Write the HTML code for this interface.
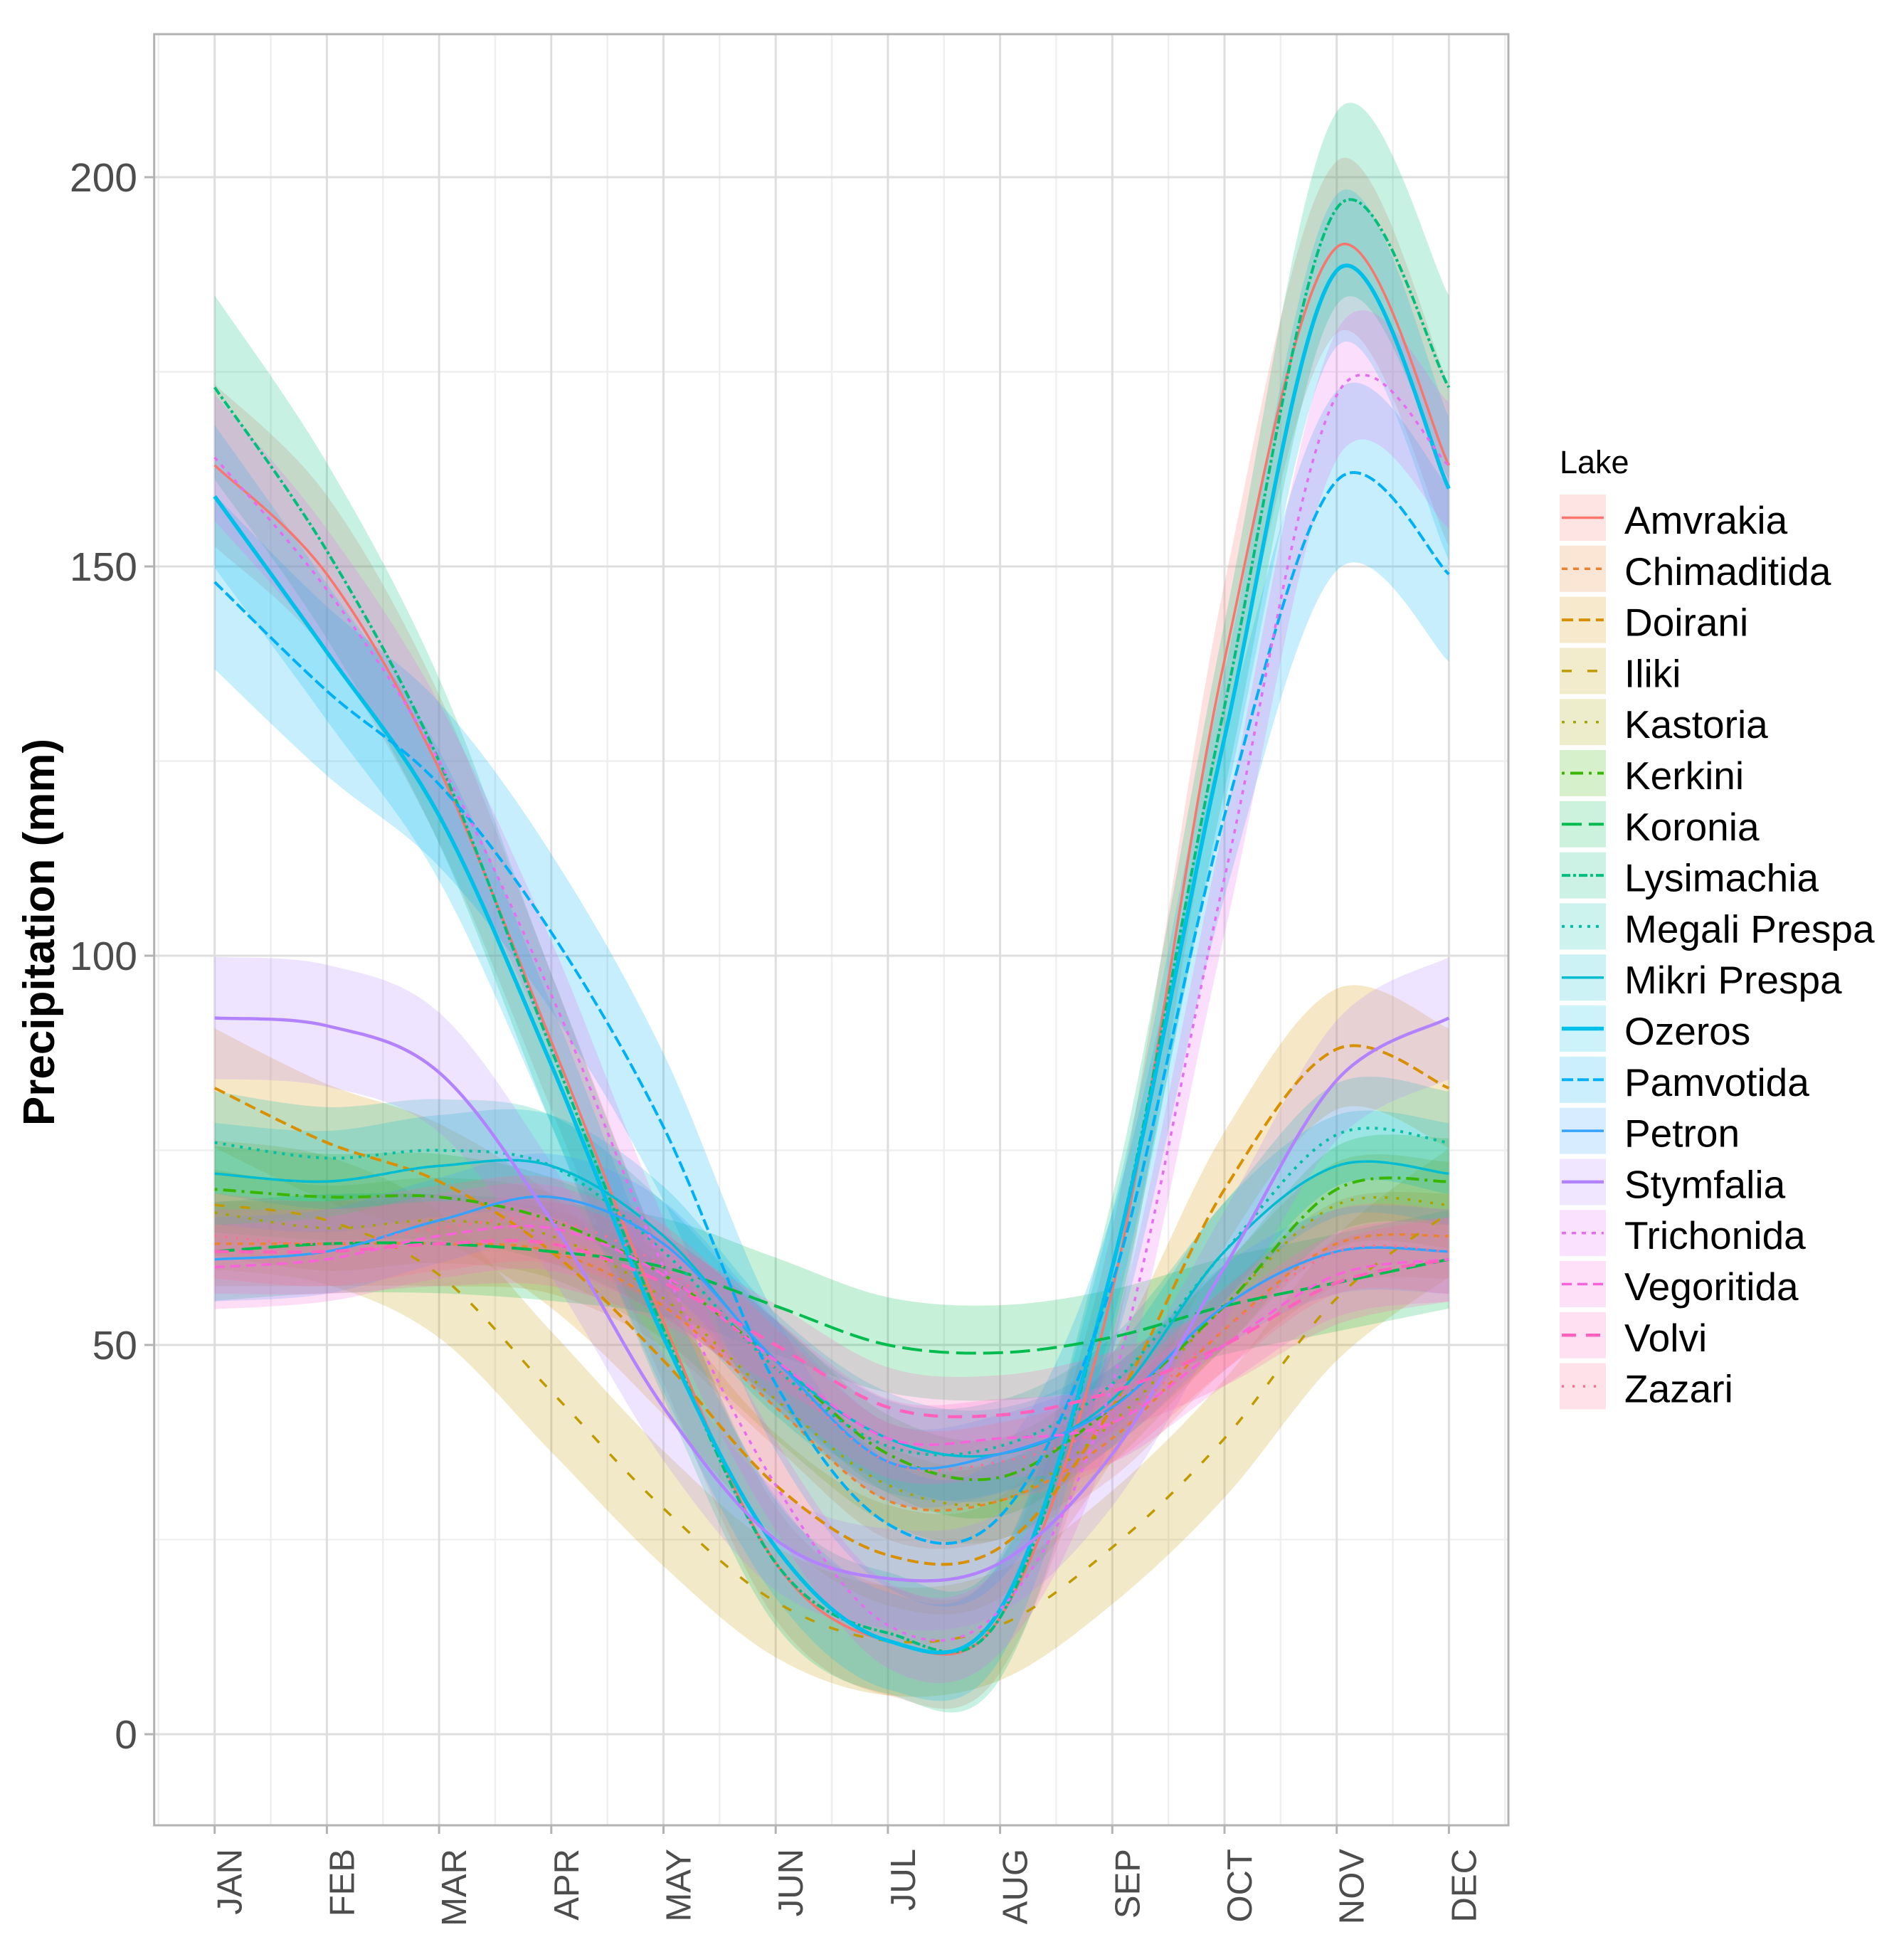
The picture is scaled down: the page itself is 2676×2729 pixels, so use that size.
<!DOCTYPE html>
<html><head><meta charset="utf-8"><style>
html,body{margin:0;padding:0;background:#fff;}
svg{display:block;font-family:"Liberation Sans",Arial,sans-serif;}
</style></head><body>
<svg id="chart" width="2676" height="2729" viewBox="0 0 2676 2729" xmlns="http://www.w3.org/2000/svg">
<g id="grid"></g>
<g id="ribbons"></g>
<g id="lines"></g>
<rect x="216.7" y="48" width="1903.3" height="2517" fill="none" stroke="#b3b3b3" stroke-width="3"/>
<g id="axes"></g>
<text transform="translate(76,1310) rotate(-90)" text-anchor="middle" font-weight="bold" font-size="62" fill="#000">Precipitation (mm)</text>
<g id="legend">
<text x="2192" y="665" font-size="45" fill="#000">Lake</text>
</g>
</svg>
<script>
const months = ["JAN","FEB","MAR","APR","MAY","JUN","JUL","AUG","SEP","OCT","NOV","DEC"];
const lakes = ["Amvrakia","Chimaditida","Doirani","Iliki","Kastoria","Kerkini","Koronia","Lysimachia","Megali Prespa","Mikri Prespa","Ozeros","Pamvotida","Petron","Stymfalia","Trichonida","Vegoritida","Volvi","Zazari"];
const yTicks = [0,50,100,150,200];
const amvrakia    = [163,149,124,89,53,22,12,15,57,138,191,163];
const chimaditida = [63,63,63,62,55,42,30,30,38,52,63,64];
const doirani     = [83,76,71,62,48,32,23,24,42,70,88,83];
const iliki       = [68,66,59,44,29,17,12,14,24,38,56,67];
const kastoria    = [67,65,66,64,56,43,32,30,40,55,68,68];
const kerkini     = [70,69,69,66,59,48,36,33,42,55,70,71];
const koronia     = [62,63,63,62,60,55,50,49,51,55,58,61];
const lysimachia  = [173,152,125,88,52,22,13,15,60,132,196,173];
const megaliPrespa= [76,74,75,73,62,47,37,37,45,62,77,76];
const mikriPrespa = [72,71,73,73,64,48,38,36,43,62,73,72];
const ozeros      = [159,139,118,86,51,24,12,16,60,128,188,160];
const pamvotida   = [148,134,122,103,78,45,27,28,58,118,161,149];
const petron      = [61,62,66,69,63,48,35,36,42,55,62,62];
const stymfalia   = [92,91,85,66,42,25,20,22,36,60,84,92];
const trichonida  = [164,147,125,95,60,32,14,16,45,110,172,163];
const vegoritida  = [60,61,64,65,59,48,38,38,40,50,59,61];
const volvi       = [62,62,63,63,58,50,42,41,44,50,58,61];
const zazari      = [64,63,65,66,60,47,35,35,40,52,62,62];
const seriesValues = [amvrakia,chimaditida,doirani,iliki,kastoria,kerkini,koronia,lysimachia,megaliPrespa,mikriPrespa,ozeros,pamvotida,petron,stymfalia,trichonida,vegoritida,volvi,zazari];
const spread = [9,6,8,9,6,6,7,10,7,7,8,10,6,8,7,6,6,6];

const colors = ["#F8766D","#EA8331","#D89000","#C09B00","#A3A500","#39B600","#00BB4E","#00BF7D","#00C1A3","#00BCD0","#00BFE8","#00B0F6","#35A2FF","#B383FF","#E76BF3","#FA62DB","#FF62BC","#FF6C91"];
const dashes = ["","8,8","16,8","14,22","4,12","4,8,18,8","28,10","12,4,4,4","4,8","","","16,6","","","6,8","14,8","20,14","3,12"];
const widths = [3.5,3.5,4,3.5,3.5,4,4,4,4,3.5,5.5,4,3.5,4.5,3.5,3.5,4.5,3.5];

const X0=301.7, DX=157.7, Y0=2437, KY=10.94, PL=216.7, PR=2120, PT=48, PB=2565;
function xs(m){return X0+m*DX;}
function ys(v){return Y0-v*KY;}
const NS="http://www.w3.org/2000/svg";
function mk(tag,attrs,parent){const e=document.createElementNS(NS,tag);for(const k in attrs)e.setAttribute(k,attrs[k]);parent.appendChild(e);return e;}
function smooth(pts){
  let d="M"+pts[0][0].toFixed(1)+","+pts[0][1].toFixed(1);
  for(let i=0;i<pts.length-1;i++){
    const p0=pts[Math.max(0,i-1)],p1=pts[i],p2=pts[i+1],p3=pts[Math.min(pts.length-1,i+2)];
    const c1=[p1[0]+(p2[0]-p0[0])/6,p1[1]+(p2[1]-p0[1])/6];
    const c2=[p2[0]-(p3[0]-p1[0])/6,p2[1]-(p3[1]-p1[1])/6];
    d+="C"+c1[0].toFixed(1)+","+c1[1].toFixed(1)+" "+c2[0].toFixed(1)+","+c2[1].toFixed(1)+" "+p2[0].toFixed(1)+","+p2[1].toFixed(1);
  }
  return d;
}
function smoothRev(pts){ return smooth(pts).replace(/^M[^C]*/,""); }
const grid=document.getElementById("grid");
for(let v=-25;v<=225;v+=50){const y=ys(v);if(y<PT||y>PB)continue;
  const l=mk("line",{x1:PL,x2:PR,y1:y,y2:y,stroke:"#efefef","stroke-width":2.5},grid);
  
  }
for(let m=-0.5;m<12;m+=1){const x=xs(m);if(x<PL||x>PR)continue;
  const l=mk("line",{x1:x,x2:x,y1:PT,y2:PB,stroke:"#efefef","stroke-width":2.5},grid);
  
  }
yTicks.forEach(v=>{const y=ys(v);
  const l=mk("line",{x1:PL,x2:PR,y1:y,y2:y,stroke:"#dedede","stroke-width":3},grid);
  
  });
months.forEach((mo,i)=>{const x=xs(i);
  const l=mk("line",{x1:x,x2:x,y1:PT,y2:PB,stroke:"#dedede","stroke-width":3},grid);
  
  });
const rib=document.getElementById("ribbons");
seriesValues.forEach((vals,k)=>{
  const up=vals.map((v,i)=>[xs(i),ys(v+spread[k]*(0.75+v/400))]);
  const lo=vals.map((v,i)=>[xs(i),ys(v-spread[k]*(0.75+v/400))]).reverse();
  const d=smooth(up)+"L"+lo[0][0].toFixed(1)+","+lo[0][1].toFixed(1)+smoothRev(lo)+"Z";
  const p=mk("path",{d:d,fill:colors[k],"fill-opacity":0.22,stroke:"none"},rib);
  
  
});
const ln=document.getElementById("lines");
seriesValues.forEach((vals,k)=>{
  const pts=vals.map((v,i)=>[xs(i),ys(v)]);
  const a={d:smooth(pts),fill:"none",stroke:colors[k],"stroke-width":widths[k]};
  if(dashes[k])a["stroke-dasharray"]=dashes[k];
  const p=mk("path",a,ln);
  
  
});
const ax=document.getElementById("axes");
yTicks.forEach(v=>{const y=ys(v);
  const t=mk("line",{x1:203,x2:PL,y1:y,y2:y,stroke:"#b3b3b3","stroke-width":3},ax);
  
  
  const tx=mk("text",{x:193,y:y+20,"text-anchor":"end","font-size":57,fill:"#4d4d4d"},ax);
  tx.textContent=String(v);
  
  });
months.forEach((mo,i)=>{const x=xs(i);
  const t=mk("line",{x1:x,x2:x,y1:PB,y2:PB+12,stroke:"#b3b3b3","stroke-width":3},ax);
  
  
  const tx=mk("text",{transform:"translate("+(x+38)+",2598) rotate(-90)","text-anchor":"end","font-size":49,fill:"#4d4d4d"},ax);
  tx.textContent=mo;
  
  });
const lg=document.getElementById("legend");
lakes.forEach((name,k)=>{
  const top=695+k*71.8;
  const g=mk("g",{},lg);
  
  
  mk("rect",{x:2192,y:top,width:65,height:65,fill:colors[k],"fill-opacity":0.2},g);
  const a={x1:2195,x2:2254,y1:top+32.5,y2:top+32.5,stroke:colors[k],"stroke-width":widths[k]};
  if(dashes[k])a["stroke-dasharray"]=dashes[k];
  mk("line",a,g);
  const t=mk("text",{x:2283,y:top+55,"font-size":55,fill:"#000"},g);
  t.textContent=name;
});
</script>
</body></html>
